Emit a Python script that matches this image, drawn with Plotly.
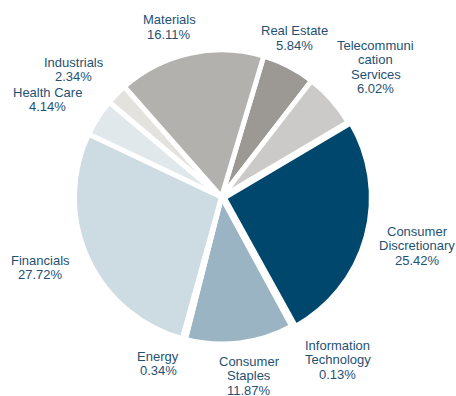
import math
import plotly.graph_objects as go

# ---- data ----
sectors = ["Real Estate", "Telecommunication Services", "Consumer Discretionary",
           "Information Technology", "Consumer Staples", "Energy", "Financials",
           "Health Care", "Industrials", "Materials"]
weights = [5.84, 6.02, 25.42, 0.13, 11.87, 0.34, 27.72, 4.14, 2.34, 16.11]
label_lines = [["Real Estate"], ["Telecommuni", "cation", "Services"],
               ["Consumer", "Discretionary"], ["Information", "Technology"],
               ["Consumer", "Staples"], ["Energy"], ["Financials"],
               ["Health Care"], ["Industrials"], ["Materials"]]

# ---- styles / layout ----
colors = ["#9c9894", "#cbcac8", "#00476d", "#3a6585", "#9ab4c3",
          "#7f9aab", "#cddbe2", "#e1e8ec", "#e4e2df", "#b3b1ae"]
pulls = [0, 0, 0.02, 0, 0, 0, 0, 0, 0, 0]
label_dist = [175, 202, 202, 200, 181, 178, 194, 199, 195, 178]   # px from centre
label_nudge = [-2.7, 1.3, -1.2, -6.7, -1.6, 5.9, 3.3, -3.5, -3.7, -4.7]  # degrees
W, H = 456, 396
cx, cy = 221.5, 197.0
dom_r = 150.0
rotation = 16.7
text_color = "#1f5173"
font_family = "Liberation Sans, Arial, sans-serif"
font_size = 13
line_step = 14.5

fig = go.Figure(go.Pie(
    labels=sectors, values=weights, sort=False, direction="clockwise",
    rotation=rotation, pull=pulls, textinfo="none", hoverinfo="label+percent",
    marker=dict(colors=colors, line=dict(color="white", width=5)),
    domain=dict(x=[(cx - dom_r) / W, (cx + dom_r) / W],
                y=[(H - cy - dom_r) / H, (H - cy + dom_r) / H]),
    showlegend=False,
))

total = sum(weights)
annotations = []
cum = 0.0
for i, (v, lines) in enumerate(zip(weights, label_lines)):
    mid = rotation + (cum + v / 2) / total * 360.0 + label_nudge[i]
    cum += v
    a = math.radians(mid)
    px = cx + label_dist[i] * math.sin(a)
    py = cy - label_dist[i] * math.cos(a)
    allines = lines + [f"{v:.2f}%"]
    n = len(allines)
    for j, t in enumerate(allines):
        annotations.append(dict(
            x=px / W, y=1 - py / H, xref="paper", yref="paper",
            xanchor="center", yanchor="middle", showarrow=False,
            text=t, yshift=-(j - (n - 1) / 2) * line_step,
            font=dict(family=font_family, size=font_size, color=text_color),
        ))

fig.update_layout(
    width=W, height=H, margin=dict(l=0, r=0, t=0, b=0),
    paper_bgcolor="white", plot_bgcolor="white",
    annotations=annotations,
)
fig.write_html("out.html")
